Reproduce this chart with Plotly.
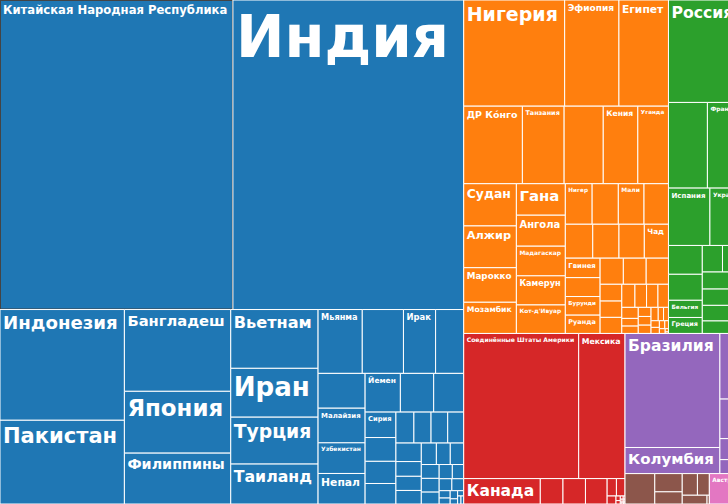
import plotly.graph_objects as go

ROOT = "Мир"

continents = ["Азия", "Африка", "Европа", "Северная Америка",
              "Южная Америка", "Центральная Америка", "Океания"]
continent_colors = ["#1f77b4", "#ff7f0e", "#2ca02c", "#d62728",
                    "#9467bd", "#8c564b", "#e377c2"]

asia_names = ["Китайская Народная Республика", "Индия", "Индонезия", "Пакистан", "Бангладеш",
              "Япония", "Филиппины", "Вьетнам", "Иран", "Турция", "Таиланд", "Мьянма",
              "Республика Корея", "Ирак", "Афганистан", "Саудовская Аравия", "Малайзия",
              "Узбекистан", "Непал", "Йемен", "КНДР", "Тайвань", "Сирия", "Шри-Ланка",
              "Казахстан", "Камбоджа", "Иордания", "Азербайджан", "ОАЭ", "Таджикистан",
              "Израиль", "Гонконг", "Лаос", "Ливан", "Киргизия", "Туркмения", "Сингапур",
              "Палестина", "Оман", "Кувейт", "Грузия", "Монголия", "Армения", "Катар",
              "Бахрейн", "Восточный Тимор", "Кипр", "Бутан", "Макао", "Мальдивы", "Бруней"]
asia_values = [1426, 1413, 272.5, 206, 172, 130, 107, 101.6, 84.4, 81, 69, 55.8,
               52, 40.6, 35.5, 32.4, 32.2, 28.5, 28.4, 27, 25.5, 23, 15.5, 14.5,
               13.5, 12.5, 11.0, 10.5, 10.2, 9.8, 9.3, 7.4, 7.1, 6.8, 6.4, 5.9, 5.7,
               4.9, 4.85, 4.2, 3.7, 3.2, 3.0, 2.8, 1.6, 1.3, 1.2, 0.76, 0.64, 0.53, 0.43]

africa_names = ["Нигерия", "Эфиопия", "Египет", "ДР Ко́нго", "Танзания", "ЮАР", "Кения", "Уганда",
                "Судан", "Алжир", "Марокко", "Мозамбик", "Гана", "Ангола", "Мадагаскар",
                "Камерун", "Кот-д'Ивуар", "Нигер", "Буркина-Фасо", "Мали", "Малави",
                "Замбия", "Сенегал", "Зимбабве", "Чад", "Гвинея", "Бенин", "Бурунди", "Руанда",
                "Сомали", "Тунис", "Южный Судан", "Того", "Сьерра-Леоне", "Ливия",
                "Республика Конго", "Либерия", "ЦАР", "Мавритания", "Эритрея", "Намибия",
                "Гамбия", "Ботсвана", "Габон", "Лесото", "Гвинея-Бисау",
                "Экваториальная Гвинея", "Маврикий", "Эсватини", "Джибути", "Коморы",
                "Западная Сахара", "Кабо-Верде", "Сан-Томе и Принсипи", "Сейшелы"]
africa_values = [212, 114, 104, 90, 64, 60, 53, 47,
                 44, 43.5, 36, 32.5, 30.5, 30, 28.7,
                 28.2, 27.6, 21.5, 21, 20.6, 19.6,
                 18.4, 17.6, 17, 16.2, 13.4, 13, 12.8, 12.6,
                 12, 11.8, 11.5, 7.2, 7.0, 6.9,
                 6.0, 5.3, 5.2, 4.8, 3.6, 2.5,
                 2.4, 2.3, 2.2, 2.1, 1.9,
                 1.4, 1.3, 1.1, 1.0, 0.85,
                 0.58, 0.55, 0.21, 0.1]

europe_names = ["Россия", "Германия", "Великобритания", "Франция", "Италия", "Испания", "Украина",
                "Польша", "Румыния", "Нидерланды", "Бельгия", "Греция", "Чехия", "Португалия",
                "Швеция", "Венгрия", "Белоруссия", "Австрия", "Швейцария", "Сербия", "Болгария",
                "Дания", "Финляндия", "Словакия", "Норвегия", "Ирландия", "Хорватия", "Молдавия",
                "Босния и Герцеговина", "Албания", "Литва", "Северная Македония", "Словения",
                "Латвия", "Эстония", "Люксембург", "Черногория", "Мальта", "Исландия",
                "Андорра", "Монако", "Лихтенштейн", "Сан-Марино"]
europe_values = [144, 82, 66, 64, 59, 47, 41.5,
                 38, 19.3, 17.4, 11.5, 10.7, 10.6, 10.3,
                 10.2, 9.7, 9.4, 9.0, 8.6, 6.9, 6.8,
                 5.8, 5.5, 5.45, 5.4, 4.9, 4.1, 4.0,
                 3.3, 2.9, 2.7, 2.1, 2.05,
                 1.9, 1.3, 0.63, 0.62, 0.51, 0.37,
                 0.08, 0.04, 0.038, 0.034]

namerica_names = ["Соединённые Штаты Америки", "Мексика", "Канада", "Гаити", "Куба",
                  "Доминиканская Республика", "Пуэрто-Рико", "Ямайка", "Тринидад и Тобаго",
                  "Багамы", "Барбадос", "Сент-Люсия", "Гренада", "Сент-Винсент и Гренадины",
                  "Антигуа и Барбуда", "Доминика", "Сент-Китс и Невис", "Бермуды", "Гренландия"]
namerica_values = [330, 133, 38.5, 11.4, 11.3,
                   10.9, 3.2, 2.96, 1.4,
                   0.39, 0.29, 0.18, 0.11, 0.11,
                   0.1, 0.072, 0.053, 0.062, 0.056]

samerica_names = ["Бразилия", "Колумбия", "Аргентина", "Перу", "Венесуэла", "Чили", "Эквадор",
                  "Боливия", "Парагвай", "Уругвай", "Гайана", "Суринам", "Французская Гвиана"]
samerica_values = [214, 49, 45, 33, 28, 19, 17.6,
                   11.7, 7.1, 3.5, 0.79, 0.59, 0.3]

camerica_names = ["Гватемала", "Гондурас", "Никарагуа", "Сальвадор", "Коста-Рика", "Панама", "Белиз"]
camerica_values = [17.9, 9.9, 6.6, 6.5, 5.1, 4.3, 0.4]

oceania_names = ["Австралия", "Папуа — Новая Гвинея", "Новая Зеландия", "Фиджи",
                 "Соломоновы Острова", "Вануату", "Новая Каледония", "Французская Полинезия",
                 "Самоа", "Гуам", "Кирибати", "Микронезия", "Тонга"]
oceania_values = [25.5, 9.0, 4.8, 0.9, 0.69, 0.31, 0.29, 0.28, 0.2, 0.17, 0.12, 0.11, 0.1]

shown_labels = [
    "Китайская Народная Республика", "Индия", "Индонезия", "Пакистан", "Бангладеш", "Япония",
    "Филиппины", "Вьетнам", "Иран", "Турция", "Таиланд", "Мьянма", "Ирак", "Йемен", "Малайзия",
    "Узбекистан", "Непал", "Сирия",
    "Нигерия", "Эфиопия", "Египет", "ДР Ко́нго", "Танзания", "Кения", "Уганда", "Судан", "Алжир",
    "Марокко", "Мозамбик", "Гана", "Ангола", "Мадагаскар", "Камерун", "Кот-д'Ивуар", "Нигер",
    "Мали", "Чад", "Гвинея", "Бурунди", "Руанда",
    "Россия", "Германия", "Франция", "Италия", "Испания", "Украина", "Польша", "Бельгия", "Греция",
    "Соединённые Штаты Америки", "Мексика", "Канада",
    "Бразилия", "Колумбия",
    "Австралия",
]

groups = [
    (asia_names, asia_values),
    (africa_names, africa_values),
    (europe_names, europe_values),
    (namerica_names, namerica_values),
    (samerica_names, samerica_values),
    (camerica_names, camerica_values),
    (oceania_names, oceania_values),
]

ids = [ROOT]
labels = [ROOT]
parents = [""]
values = [0]
colors = ["#ffffff"]
texts = [""]

for cont, col, (names, vals) in zip(continents, continent_colors, groups):
    ids.append(cont)
    labels.append(cont)
    parents.append(ROOT)
    values.append(0)
    colors.append(col)
    texts.append("")
    for n, v in zip(names, vals):
        ids.append(cont + "/" + n)
        labels.append(n)
        parents.append(cont)
        values.append(v)
        colors.append(col)
        # trailing thin space gives the label a little right-hand breathing room
        texts.append(n + "\u2009" if n in shown_labels else "")

font = dict(family="DejaVu Sans", size=200, color="white", weight="bold")

fig = go.Figure(go.Treemap(
    ids=ids,
    labels=labels,
    parents=parents,
    values=values,
    branchvalues="remainder",
    sort=True,
    text=texts,
    textinfo="text",
    textposition="top left",
    textfont=font,
    insidetextfont=font,
    outsidetextfont=font,
    tiling=dict(packing="squarify", squarifyratio=1.618034, pad=0),
    marker=dict(colors=colors, line=dict(color="white", width=1),
                pad=dict(t=0, l=0, r=0, b=0)),
    pathbar=dict(visible=False),
    hoverinfo="skip",
))

fig.update_layout(
    width=780,
    height=504,
    margin=dict(l=0, r=0, t=0, b=0),
    paper_bgcolor="white",
    showlegend=False,
)

fig.write_html(
    "out.html",
    post_script=("document.documentElement.style.overflow='hidden';"
                 "document.body.style.overflow='hidden';"
                 "document.body.style.margin='0';"),
)
